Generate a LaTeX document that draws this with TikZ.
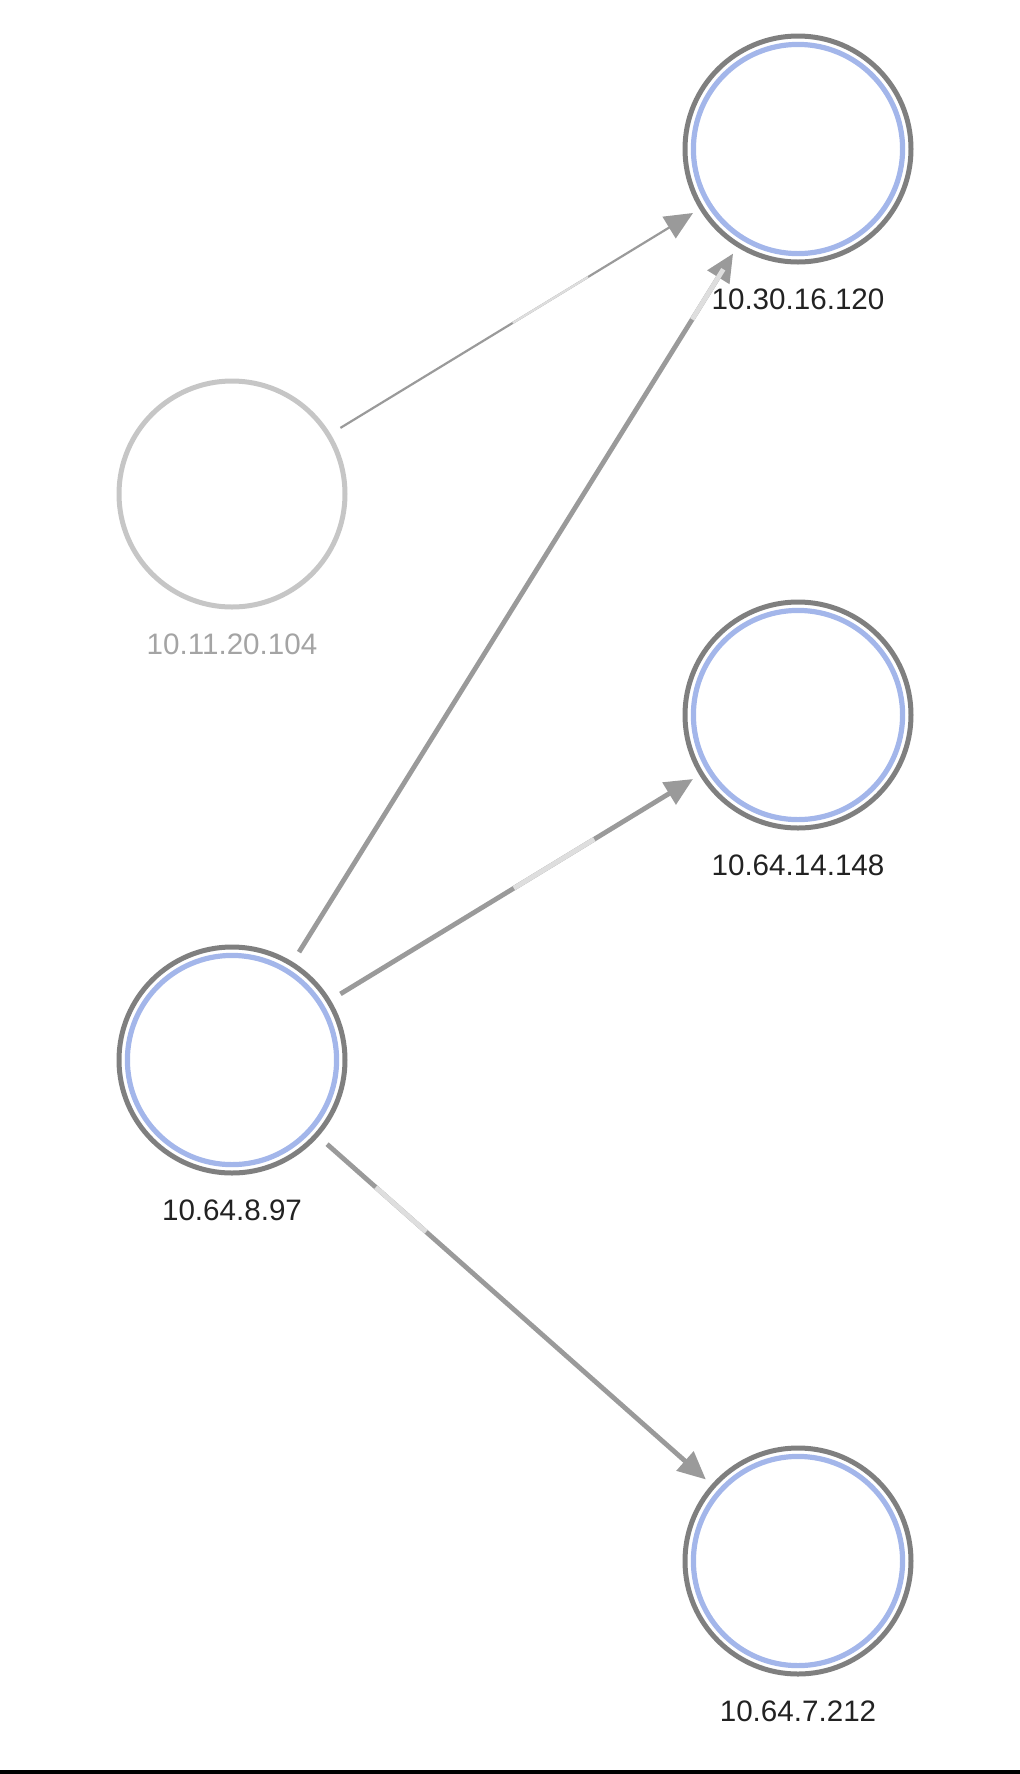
\documentclass[tikz,border=0pt]{standalone}
\usepackage{fontspec}
\setmainfont{Liberation Sans}
\usetikzlibrary{arrows.meta,calc,positioning}
\definecolor{ringgray}{HTML}{7F7F7F}
\definecolor{ringblue}{HTML}{A3B6EA}
\definecolor{ghostgray}{HTML}{C6C6C6}
\definecolor{linkgray}{HTML}{9A9A9A}
\definecolor{glowgray}{HTML}{DEDEDE}
\definecolor{labelink}{HTML}{222222}
\definecolor{ghostink}{HTML}{A4A4A4}

\begin{document}
\begin{tikzpicture}[x=0.5pt,y=-0.5pt,
  host/.style={circle,draw=ringgray,line width=2.5pt,minimum size=113pt,inner sep=0pt,outer sep=0pt,
    path picture={\draw[ringblue,line width=2.6pt] (path picture bounding box.center) circle[radius=52.3pt];}},
  ghost/.style={circle,draw=ghostgray,line width=2.5pt,minimum size=113pt,inner sep=0pt,outer sep=0pt},
  ip/.style={anchor=base,text=labelink,font=\fontsize{14.8}{17}\selectfont},
  ghostip/.style={ip,text=ghostink},
  link/.style={draw=linkgray,line width=2.4pt,shorten <=7pt,shorten >=5pt,-{Triangle[length=14pt,width=12.5pt]}},
  thinlink/.style={link,line width=1.1pt},
  glow/.style={draw=glowgray,line width=2.4pt}]
\useasboundingbox (0,0) rectangle (1020,1774);

\node[host] (A) at (798,149) {};
\node[ghost] (B) at (232,494) {};
\node[host] (C) at (798,715) {};
\node[host] (D) at (232,1060) {};
\node[host] (E) at (798,1561) {};

\node[ip] (tA) at ($(A)+(0,160)$) {10.30.16.120};
\node[ghostip] (tB) at ($(B)+(0,160)$) {10.11.20.104};
\node[ip] (tC) at ($(C)+(0,160)$) {10.64.14.148};
\node[ip] (tD) at ($(D)+(0,160)$) {10.64.8.97};
\node[ip] (tE) at ($(E)+(0,160)$) {10.64.7.212};

\draw[thinlink] (B) -- (A);
\draw[link] (D) -- (A);
\draw[link] (D) -- (C);
\draw[link] (D) -- (E);

% lighter stretches on the links
\draw[glow,line width=1.1pt] ($(B)!0.496!(A)$) -- ($(B)!0.629!(A)$);
\draw[glow] ($(D)!0.813!(A)$) -- ($(D)!0.868!(A)$);
\draw[glow] ($(D)!0.498!(C)$) -- ($(D)!0.640!(C)$);
\draw[glow] ($(D)!0.254!(E)$) -- ($(D)!0.343!(E)$);

\fill[black] (0,1770) rectangle (1020,1774);
\end{tikzpicture}
\end{document}
